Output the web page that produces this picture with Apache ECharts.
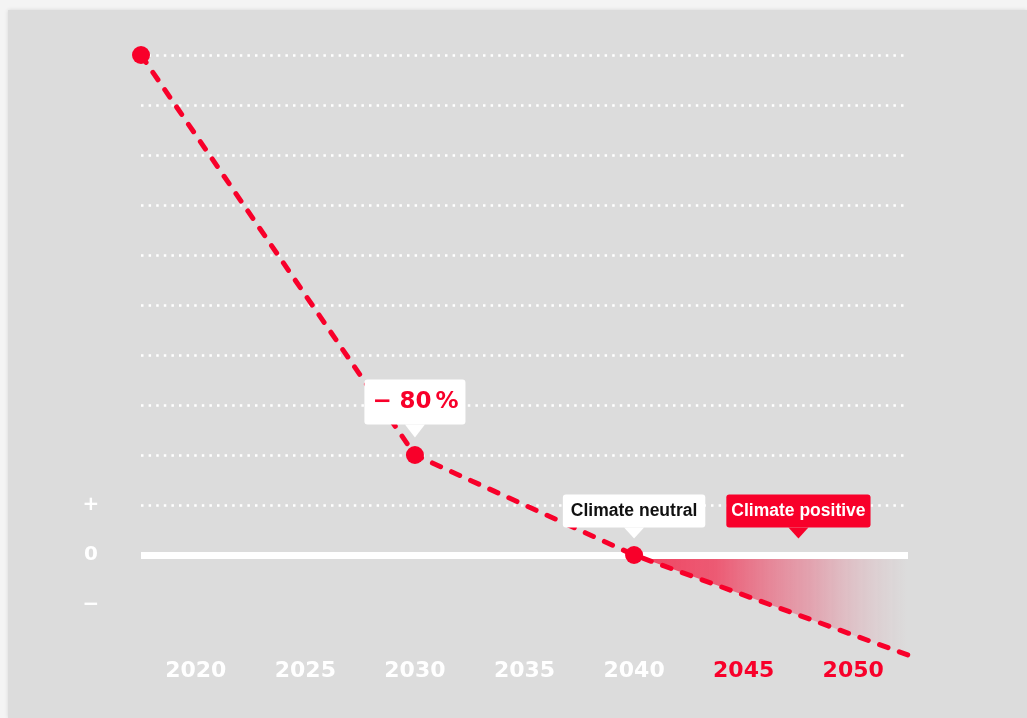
<!DOCTYPE html>
<html>
<head>
<meta charset="utf-8">
<script src="https://cdn.jsdelivr.net/npm/echarts@6/dist/echarts.min.js"></script>
<style>
  html, body { margin: 0; padding: 0; width: 1027px; height: 718px; background: #f4f4f4; overflow: hidden; }
  #panel { position: absolute; left: 8px; top: 10px; right: 0; bottom: 0; background: #dcdcdc; box-shadow: 0 0 4px rgba(0,0,0,0.12); }
  #chart { position: absolute; left: 0; top: 0; width: 1027px; height: 718px; }
</style>
</head>
<body>
<div id="panel"></div>
<div id="chart"></div>
<script>
// Data (emissions index: 10 = start level, 0 = climate neutral)
const years = [2017.5, 2030, 2040, 2052.5];
const values = [10, 2, 0, -2];
const xTickYears = [2020, 2025, 2030, 2035, 2040, 2045, 2050];
const positiveYears = [2045, 2050];
const yTickValues = [-1, 0, 1];
const yTickText = { '1': '+', '0': '0', '-1': '\u2212' };
const callouts = [
  { name: 'reduction', x: 2030, y: 2, text: '{m|\u2212}{n|80}{p|%}' },
  { name: 'neutral', x: 2040, y: 0, text: 'Climate neutral' },
  { name: 'positive', x: 2047.5, y: 0, text: 'Climate positive' }
];

const RED = '#f8002a';
const chart = echarts.init(document.getElementById('chart'), null, { renderer: 'canvas' });

const mainData = years.map((yr, i) => {
  const d = { value: [yr, values[i]] };
  if (i === years.length - 1) d.symbol = 'none';
  return d;
});
const areaData = years.map((yr, i) => [yr, values[i]]).filter(d => d[0] >= 2040);

const redTxt = { color: RED, fontFamily: 'DejaVu Sans', fontWeight: 'bold', fontSize: 23, lineHeight: 25 };
const calloutStyles = {
  reduction: { bg: '#ffffff', color: RED, font: 'DejaVu Sans', size: 23, padding: [10, 7, 10, 8], lh: 25, tri: '#ffffff', size2: [20, 13], off: -24,
    rich: {
      m: Object.assign({ width: 27, align: 'left' }, redTxt),
      n: Object.assign({ width: 36, align: 'left' }, redTxt),
      p: Object.assign({}, redTxt)
    } },
  neutral: { bg: '#ffffff', color: '#111111', font: 'Liberation Sans', size: 17.5, padding: [6, 8, 6, 8], lh: 21, tri: '#ffffff', size2: [20, 11], off: -22 },
  positive: { bg: RED, color: '#ffffff', font: 'Liberation Sans', size: 17.5, padding: [6, 5, 6, 5], lh: 21, tri: RED, size2: [20, 11], off: -22 }
};

const markPointData = callouts.map(c => {
  const s = calloutStyles[c.name];
  const label = {
    show: true,
    position: 'top',
    distance: 0,
    formatter: c.text,
    backgroundColor: s.bg,
    color: s.color,
    fontFamily: s.font,
    fontSize: s.size,
    fontWeight: 'bold',
    lineHeight: s.lh,
    padding: s.padding,
    borderRadius: 3
  };
  if (s.rich) label.rich = s.rich;
  return {
    name: c.name,
    coord: [c.x, c.y],
    symbol: 'triangle',
    symbolSize: s.size2,
    symbolRotate: 180,
    symbolOffset: [0, s.off],
    itemStyle: { color: s.tri },
    label: label
  };
});

const option = {
  animation: false,
  backgroundColor: 'transparent',
  grid: { left: 141, right: 119, top: 55, bottom: 63, containLabel: false },
  xAxis: {
    type: 'value',
    min: 2017.5,
    max: 2052.5,
    axisLine: { show: false },
    axisTick: { show: false },
    splitLine: { show: false },
    axisLabel: {
      customValues: xTickYears,
      margin: 5,
      formatter: v => (positiveYears.indexOf(v) >= 0 ? '{r|' + v + '}' : '{w|' + v + '}'),
      rich: {
        w: { color: '#ffffff', fontFamily: 'DejaVu Sans', fontWeight: 'bold', fontSize: 22 },
        r: { color: RED, fontFamily: 'DejaVu Sans', fontWeight: 'bold', fontSize: 22 }
      }
    }
  },
  yAxis: {
    type: 'value',
    min: -2,
    max: 10,
    interval: 1,
    axisLine: { show: false },
    axisTick: { show: false },
    axisLabel: {
      customValues: yTickValues,
      formatter: v => yTickText[String(v)],
      color: '#ffffff',
      fontFamily: 'DejaVu Sans',
      fontWeight: 'bold',
      fontSize: 20,
      align: 'center',
      margin: 50
    },
    splitLine: {
      show: true,
      lineStyle: {
        color: ['rgba(0,0,0,0)', 'rgba(0,0,0,0)', 'rgba(0,0,0,0)',
                '#ffffff', '#ffffff', '#ffffff', '#ffffff', '#ffffff',
                '#ffffff', '#ffffff', '#ffffff', '#ffffff', '#ffffff'],
        width: 2.5,
        type: [2.5, 5.1]
      }
    }
  },
  series: [
    {
      name: 'positive area',
      type: 'line',
      data: areaData,
      symbol: 'none',
      lineStyle: { width: 0 },
      z: 1,
      areaStyle: {
        origin: 'auto',
        color: new echarts.graphic.LinearGradient(0, 0, 1, 0, [
          { offset: 0, color: 'rgba(248,0,42,1)' },
          { offset: 0.3, color: 'rgba(246,15,55,0.9)' },
          { offset: 0.65, color: 'rgba(238,60,95,0.5)' },
          { offset: 1, color: 'rgba(225,140,155,0)' }
        ])
      },
      markLine: {
        silent: true,
        symbol: 'none',
        label: { show: false },
        lineStyle: { color: '#ffffff', width: 7, type: 'solid', cap: 'butt' },
        data: [{ yAxis: 0 }],
        z: 2
      }
    },
    {
      name: 'emissions',
      type: 'line',
      data: mainData,
      clip: false,
      z: 5,
      symbol: 'circle',
      symbolSize: 18,
      itemStyle: { color: RED },
      lineStyle: { color: RED, width: 5, type: [9, 12], cap: 'round' },
      markPoint: { data: markPointData, z: 6 }
    }
  ]
};
chart.setOption(option);
</script>
</body>
</html>
